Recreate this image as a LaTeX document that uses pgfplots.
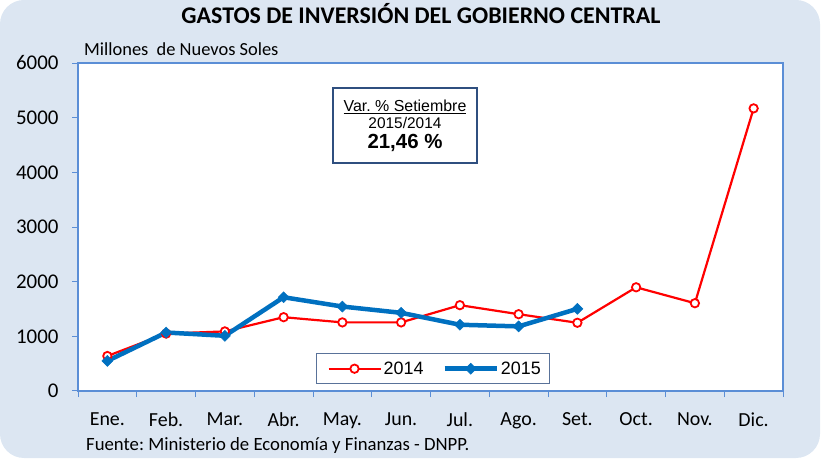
\documentclass[border=0pt]{standalone}
\usepackage{pgfplots}
\pgfplotsset{compat=1.18}
\usepackage{fontspec}
\setmainfont{Carlito}
\newfontfamily\arial{Liberation Sans}
\definecolor{bgc}{HTML}{DCE6F2}
\definecolor{axc}{HTML}{5B8ED6}
\definecolor{red14}{HTML}{FF0000}
\definecolor{blue15}{HTML}{0070C0}
\definecolor{boxc}{HTML}{2F4F7F}
\frenchspacing
\begin{document}
\begin{tikzpicture}
\useasboundingbox (0,0) rectangle (827bp,459bp);
\fill[bgc, rounded corners=24bp] (0,1bp) rectangle (820bp,459bp);
\node[anchor=base, inner sep=0, font=\fontsize{24}{28}\selectfont\bfseries] at (421bp,435bp) {GASTOS DE INVERSIÓN DEL GOBIERNO CENTRAL};
\node[anchor=base west, inner sep=0, font=\fontsize{18.5}{22}\selectfont] at (84bp,403bp) {Millones\ \ de Nuevos Soles};
\node[anchor=base west, inner sep=0, font=\fontsize{18.8}{22}\selectfont] at (86bp,9bp) {Fuente: Ministerio de Economía y Finanzas - DNPP.};
\begin{axis}[
  at={(78bp,68bp)}, anchor=south west,
  scale only axis, width=705bp, height=328bp,
  xmin=-0.5, xmax=11.5, ymin=0, ymax=6000,
  xtick={-0.5,0.5,...,11.5},
  x tick label as interval,
  xticklabels={Ene.,Feb.,Mar.,Abr.,May.,Jun.,Jul.,Ago.,Set.,Oct.,Nov.,Dic.},
  ytick={0,1000,...,6000},
  tick align=outside, tick pos=left,
  major tick length=6bp,
  axis background/.style={fill=white},
  axis line style={draw=axc, line width=1.6bp},
  every tick/.style={draw=axc, line width=1bp},
  xticklabel style={font=\fontsize{20}{22}\selectfont, yshift=-12bp},
  yticklabel style={font=\fontsize{21}{23}\selectfont, xshift=-10bp},
  /pgf/number format/1000 sep={},
  /pgf/number format/assume math mode=true,
  legend style={at={(0.3376,0.021)}, anchor=south west, draw=boxc!80, line width=0.8bp,
    font=\arial\fontsize{18}{20}\selectfont, legend columns=2,
    inner xsep=7bp, inner ysep=6bp,
    /tikz/every even column/.append style={column sep=13bp}},
  legend image code/.code={\path (-4bp,0bp); \draw[mark repeat=2,mark phase=2] plot coordinates {(0bp,0bp)(26bp,0bp)(52bp,0bp)};},
]
\addplot[red14, line width=2.2bp, mark=*, mark size=4.2bp, mark options={fill=white, line width=1.8bp}]
  coordinates {(0,640)(1,1050)(2,1090)(3,1350)(4,1255)(5,1255)(6,1570)(7,1405)(8,1248)(9,1897)(10,1606)(11,5170)};
\addlegendentry{2014}
\addplot[blue15, line width=4.5bp, mark=square*, mark size=3.9bp, mark options={rotate=45, line width=0.5bp}]
  coordinates {(0,550)(1,1070)(2,1010)(3,1715)(4,1545)(5,1430)(6,1212)(7,1182)(8,1503)};
\addlegendentry{2015}
\node[draw=boxc, line width=1.3bp, fill=white, minimum width=144bp, minimum height=75bp, align=center, font=\arial, inner sep=0]
  at (rel axis cs:0.4638,0.8095) {{\fontsize{16}{18}\selectfont\underline{Var. \% Setiembre}}\\[3bp]
  {\fontsize{15.5}{18}\selectfont 2015/2014}\\[4bp]
  {\fontsize{20.5}{22}\selectfont\bfseries 21,46 \%}};
\end{axis}
\end{tikzpicture}
\end{document}
